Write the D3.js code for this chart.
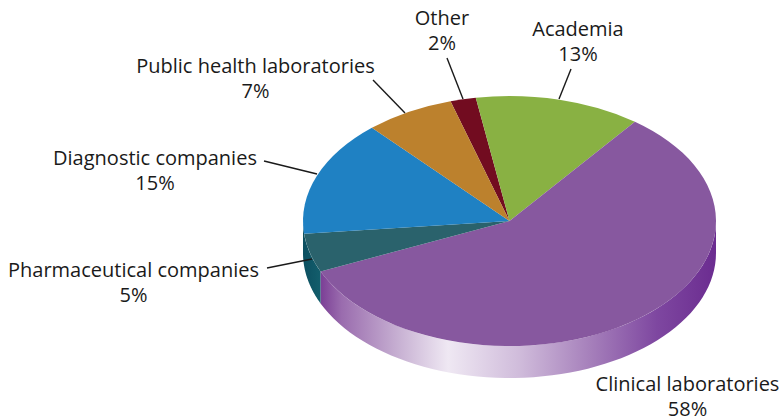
<!DOCTYPE html>
<html>
<head>
<meta charset="utf-8">
<script src="https://cdn.jsdelivr.net/npm/d3@7"></script>
<style>
	html, body { margin: 0; padding: 0; background: #fff; }
	text { font-family: "Open Sans", sans-serif; font-size: 20px; fill: #1a1a1a; }
</style>
</head>
<body>
<div id="chart-area"></div>
<script>

// DATA (clockwise, starting at Other)

let categories = ["Other", "Academia", "Clinical laboratories", "Pharmaceutical companies", "Diagnostic companies", "Public health laboratories"];
let shares = [2, 13, 58, 5, 15, 7];
let sliceColors = ["#720c20", "#89b143", "#87589f", "#2a626c", "#1f81c3", "#bc812d"];

// CHART AREA

let width = 782,
	height = 417;

let cx = 509.5,
	cy = 221,
	rx = 206.5,
	ry = 125,
	depth = 32;

let svg = d3.select("#chart-area").append("svg")
	.attr("width", width)
	.attr("height", height)
	.style("display", "block");

let startAngle = -16.6 * Math.PI / 180;

let pie = d3.pie()
	.sort(null)
	.startAngle(startAngle)
	.endAngle(startAngle + 2 * Math.PI);

let arcs = pie(shares);

let arc = d3.arc()
	.innerRadius(0)
	.outerRadius(rx);

// point on the rim, d3 angle (0 = up, clockwise)
function rimX(a) { return cx + rx * Math.sin(a); }
function rimY(a) { return cy - ry * Math.cos(a); }

// GRADIENTS FOR THE SIDE WALL

let defs = svg.append("defs");

let purpleGrad = defs.append("linearGradient")
	.attr("id", "wall-purple")
	.attr("gradientUnits", "userSpaceOnUse")
	.attr("x1", 322).attr("x2", 716)
	.attr("y1", 0).attr("y2", 0);

[[0, "#7d4297"], [0.05, "#9a6cae"], [0.2, "#c9b3d4"], [0.32, "#efe8f3"], [0.5, "#d0bcdb"], [0.68, "#a680bb"], [0.85, "#7e47a0"], [1, "#6b2c90"]]
	.forEach(s => purpleGrad.append("stop").attr("offset", s[0]).attr("stop-color", s[1]));

let tealGrad = defs.append("linearGradient")
	.attr("id", "wall-teal")
	.attr("gradientUnits", "userSpaceOnUse")
	.attr("x1", 303).attr("x2", 322)
	.attr("y1", 0).attr("y2", 0);

[[0, "#0c4f60"], [1, "#135f6d"]]
	.forEach(s => tealGrad.append("stop").attr("offset", s[0]).attr("stop-color", s[1]));

// ---- DRAW SIDE WALL ----

let wallLine = d3.line().x(d => d[0]).y(d => d[1]);

function wallPath(a0, a1) {
	let steps = d3.range(0, 61).map(i => a0 + (a1 - a0) * i / 60);
	let top = steps.map(a => [rimX(a), rimY(a)]);
	let bottom = steps.slice().reverse().map(a => [rimX(a), rimY(a) + depth]);
	return wallLine(top.concat(bottom)) + "Z";
}

// only the part of the rim between 90 and 270 degrees can be seen
let walls = [
	{fill: "url(#wall-purple)", a0: Math.PI / 2, a1: arcs[2].endAngle},
	{fill: "url(#wall-teal)", a0: arcs[3].startAngle, a1: 1.5 * Math.PI}
];

svg.selectAll(".wall")
	.data(walls)
	.enter()
	.append("path")
	.attr("class", "wall")
	.attr("d", d => wallPath(d.a0, d.a1))
	.attr("fill", d => d.fill);

// ---- DRAW TOP FACE ----

let face = svg.append("g")
	.attr("transform", "translate(" + cx + "," + cy + ") scale(1," + (ry / rx) + ")");

face.selectAll(".slice")
	.data(arcs)
	.enter()
	.append("path")
	.attr("class", "slice")
	.attr("d", arc)
	.attr("fill", (d, i) => sliceColors[i]);

// ---- LEADER LINES AND LABELS ----

let labels = [
	{i: 0, x: 442, y: 25, line: [[447, 58], [463, 99]]},
	{i: 1, x: 578, y: 36, line: [[571, 69], [559, 99]]},
	{i: 5, x: 255.5, y: 73, line: [[373, 80], [405, 113]]},
	{i: 4, x: 155, y: 165, line: [[264, 161], [317, 174]]},
	{i: 3, x: 133.5, y: 277, line: [[267, 268], [312, 259]]},
	{i: 2, x: 687.5, y: 391, line: null}
];

svg.selectAll(".leader")
	.data(labels.filter(d => d.line))
	.enter()
	.append("path")
	.attr("class", "leader")
	.attr("d", d => wallLine(d.line))
	.attr("fill", "none")
	.attr("stroke", "#1a1a1a")
	.attr("stroke-width", 1.4);

let labelText = svg.selectAll(".label")
	.data(labels)
	.enter()
	.append("text")
	.attr("class", "label")
	.attr("text-anchor", "middle")
	.attr("x", d => d.x)
	.attr("y", d => d.y);

labelText.append("tspan")
	.attr("x", d => d.x)
	.text(d => categories[d.i]);

labelText.append("tspan")
	.attr("x", d => d.x)
	.attr("dy", 24.5)
	.text(d => shares[d.i] + "%");

</script>
</body>
</html>
